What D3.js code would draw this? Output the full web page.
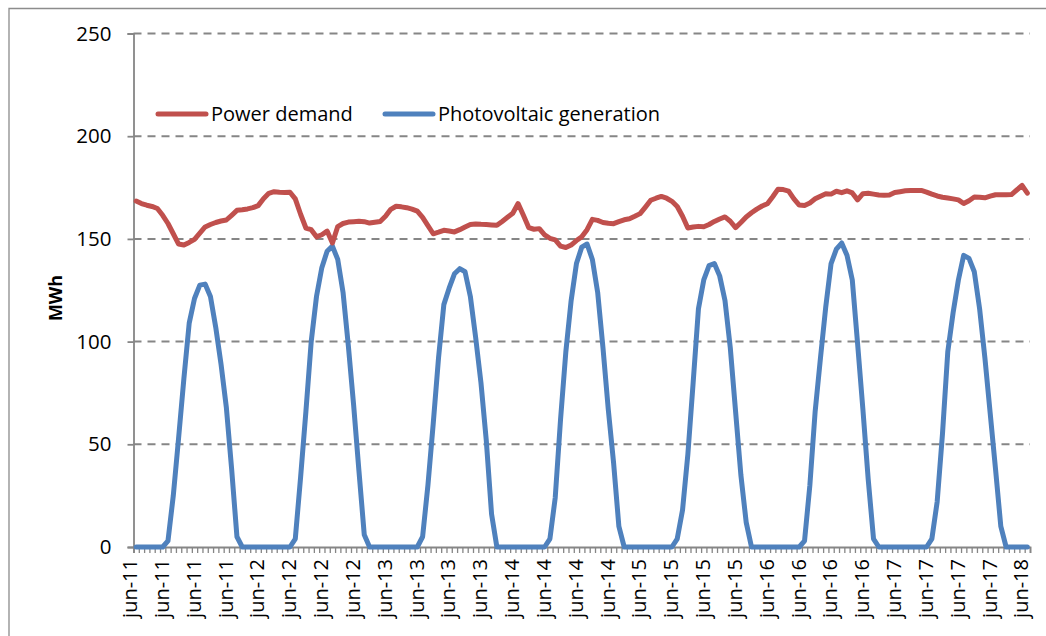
<!DOCTYPE html>
<html lang="en">
<head>
  <meta charset="utf-8">
  <title>Power demand vs photovoltaic generation</title>
  <script src="https://cdn.jsdelivr.net/npm/d3@7"></script>
  <style>
    body { margin: 0; background: #fff; }
    text { font-family: "Open Sans", sans-serif; fill: #000; }
  </style>
</head>
<body>
  <svg class="chart" width="1046" height="636"></svg>
  <script>
    // hourly values, jun-11 00:00 -> jun-18 00:00
    var demand = [
      168.4, 167.2, 166.4, 165.8, 164.8, 161.5, 157.5, 152.5, 147.5, 147, 148.3, 149.8,
      152.8, 155.8, 157, 158, 158.7, 159.2, 161.5, 163.9, 164.2, 164.6, 165.2, 166.2,
      169.6, 172.2, 173, 172.7, 172.6, 172.7, 169.5, 162, 155.3, 154.5, 151, 152,
      153.8, 148, 156, 157.5, 158.2, 158.4, 158.6, 158.4, 157.7, 158.1, 158.5, 161,
      164.4, 165.9, 165.6, 165.2, 164.5, 163.5, 160.5, 156.5, 152.5, 153.3, 154.2, 153.8,
      153.4, 154.5, 155.8, 157, 157.3, 157.1, 157, 156.8, 156.6, 158.5, 160.5, 162.5,
      167.2, 161.5, 155.5, 154.7, 155, 152, 150.3, 149.5, 146.5, 145.8, 147, 149.2,
      151, 154.5, 159.5, 159, 158, 157.6, 157.4, 158.4, 159.3, 159.8, 161, 162.3,
      165.5, 168.8, 169.8, 170.7, 169.8, 168.3, 165.8, 161, 155.3, 155.8, 156.1, 155.9,
      157, 158.5, 159.7, 160.7, 158.6, 155.5, 158, 160.7, 162.7, 164.5, 166, 167.1,
      170.5, 174.2, 174, 173.3, 169.5, 166.5, 166.3, 167.5, 169.5, 170.8, 172, 171.8,
      173.2, 172.5, 173.4, 172.4, 169, 172, 172.2, 171.8, 171.4, 171.2, 171.4, 172.6,
      173, 173.4, 173.6, 173.6, 173.6, 172.8, 171.8, 170.9, 170.3, 169.9, 169.5, 169,
      167.2, 168.6, 170.4, 170.3, 170, 170.8, 171.5, 171.5, 171.5, 171.6, 173.8, 176,
      172.3
    ];

    var photovoltaic = [
      0, 0, 0, 0, 0, 0, 3, 25, 53, 82, 109, 121, 127.5, 128, 122, 107, 89, 68, 38, 5, 0, 0, 0, 0,
      0, 0, 0, 0, 0, 0, 4, 34, 66, 100, 122, 136, 144, 146.5, 140, 124, 98, 69, 37, 6, 0, 0, 0, 0,
      0, 0, 0, 0, 0, 0, 5, 30, 60, 92, 118, 126, 133, 135.5, 134, 122, 102, 80, 52, 16, 0, 0, 0, 0,
      0, 0, 0, 0, 0, 0, 4, 24, 62, 95, 120, 138, 146, 147.5, 140, 124, 97, 67, 41, 10, 0, 0, 0, 0,
      0, 0, 0, 0, 0, 0, 4, 18, 45, 80, 116, 130, 137, 138, 132, 120, 97, 66, 35, 12, 0, 0, 0, 0,
      0, 0, 0, 0, 0, 0, 3, 30, 66, 92, 117, 138, 145, 148, 142, 130, 99, 67, 33, 4, 0, 0, 0, 0,
      0, 0, 0, 0, 0, 0, 4, 22, 55, 95, 114, 130, 142, 140.5, 134, 116, 92, 65, 38, 10, 0, 0, 0, 0,
      0
    ];

    // one label every 6 hours
    var xLabels = ["jun-11", "jun-11", "jun-11", "jun-11", "jun-12", "jun-12", "jun-12", "jun-12",
                   "jun-13", "jun-13", "jun-13", "jun-13", "jun-14", "jun-14", "jun-14", "jun-14",
                   "jun-15", "jun-15", "jun-15", "jun-15", "jun-16", "jun-16", "jun-16", "jun-16",
                   "jun-17", "jun-17", "jun-17", "jun-17", "jun-18"];
    var yTicks = [0, 50, 100, 150, 200, 250];
    var seriesNames = ["Power demand", "Photovoltaic generation"];

    var plotLeft = 133.5, plotRight = 1030, plotTop = 33.5, plotBottom = 547;
    var grey = "#868686";
    var n = demand.length;

    var x = d3.scalePoint()
              .domain(d3.range(n))
              .range([plotLeft, plotRight])
              .padding(0.5);

    var xb = d3.scaleLinear()
               .domain([0, n])
               .range([plotLeft, plotRight]);

    var y = d3.scaleLinear()
              .domain([0, 250])
              .range([plotBottom, plotTop]);

    var svg = d3.select("svg.chart");

    // outer chart frame
    svg.append("path")
       .attr("d", "M9,640V8.5H1046")
       .attr("fill", "none")
       .attr("stroke", "#8c8c8c")
       .attr("stroke-width", 1.3);

    // gridlines
    svg.append("g")
       .selectAll("line")
       .data(yTicks.slice(1))
       .join("line")
       .attr("x1", plotLeft)
       .attr("x2", plotRight)
       .attr("y1", function(d) { return y(d); })
       .attr("y2", function(d) { return y(d); })
       .attr("stroke", grey)
       .attr("stroke-width", 2)
       .attr("stroke-dasharray", "8,6");

    // y axis
    var yAxis = svg.append("g")
       .attr("transform", "translate(" + plotLeft + ",0)")
       .call(d3.axisLeft(y).tickValues(yTicks).tickSize(6).tickPadding(16));
    yAxis.select(".domain").attr("stroke", grey).attr("stroke-width", 1.8);
    yAxis.selectAll(".tick line").attr("stroke", grey).attr("stroke-width", 1.8);
    yAxis.selectAll("text")
         .attr("font-family", "Open Sans")
         .attr("font-size", 20.5)
         .attr("fill", "#000");

    // x axis ticks (hour boundaries)
    var xAxis = svg.append("g")
       .attr("transform", "translate(0," + plotBottom + ")")
       .call(d3.axisBottom(xb).tickValues(d3.range(n + 1)).tickSize(6).tickFormat(""));
    xAxis.select(".domain").attr("stroke", grey).attr("stroke-width", 1.8);
    xAxis.selectAll(".tick line").attr("stroke", grey).attr("stroke-width", 1.3);

    // x labels, rotated
    svg.append("g")
       .selectAll("text")
       .data(xLabels)
       .join("text")
       .attr("transform", function(d, i) {
         return "translate(" + (x(i * 6) + 1) + ",559) rotate(-90)";
       })
       .attr("text-anchor", "end")
       .attr("font-size", 20)
       .text(function(d) { return d; });

    // y axis title
    svg.append("text")
       .attr("transform", "translate(62,298) rotate(-90)")
       .attr("text-anchor", "middle")
       .attr("font-size", 18)
       .attr("font-weight", "bold")
       .text("MWh");

    var line = d3.line()
                 .x(function(d, i) { return x(i); })
                 .y(function(d) { return y(d); });

    svg.append("path")
       .datum(photovoltaic)
       .attr("d", line)
       .attr("fill", "none")
       .attr("stroke", "#4F81BD")
       .attr("stroke-width", 5)
       .attr("stroke-linejoin", "round")
       .attr("stroke-linecap", "round");

    svg.append("path")
       .datum(demand)
       .attr("d", line)
       .attr("fill", "none")
       .attr("stroke", "#C0504D")
       .attr("stroke-width", 5)
       .attr("stroke-linejoin", "round")
       .attr("stroke-linecap", "round");

    // legend
    var legend = svg.append("g");
    var legendX = [158, 385];
    var colors = ["#C0504D", "#4F81BD"];
    seriesNames.forEach(function(name, i) {
      legend.append("line")
            .attr("x1", legendX[i]).attr("x2", legendX[i] + 48)
            .attr("y1", 114).attr("y2", 114)
            .attr("stroke", colors[i])
            .attr("stroke-width", 5)
            .attr("stroke-linecap", "round");
      legend.append("text")
            .attr("x", legendX[i] + 53)
            .attr("y", 114)
            .attr("dy", "0.35em")
            .attr("font-size", 20)
            .text(name);
    });
  </script>
</body>
</html>
